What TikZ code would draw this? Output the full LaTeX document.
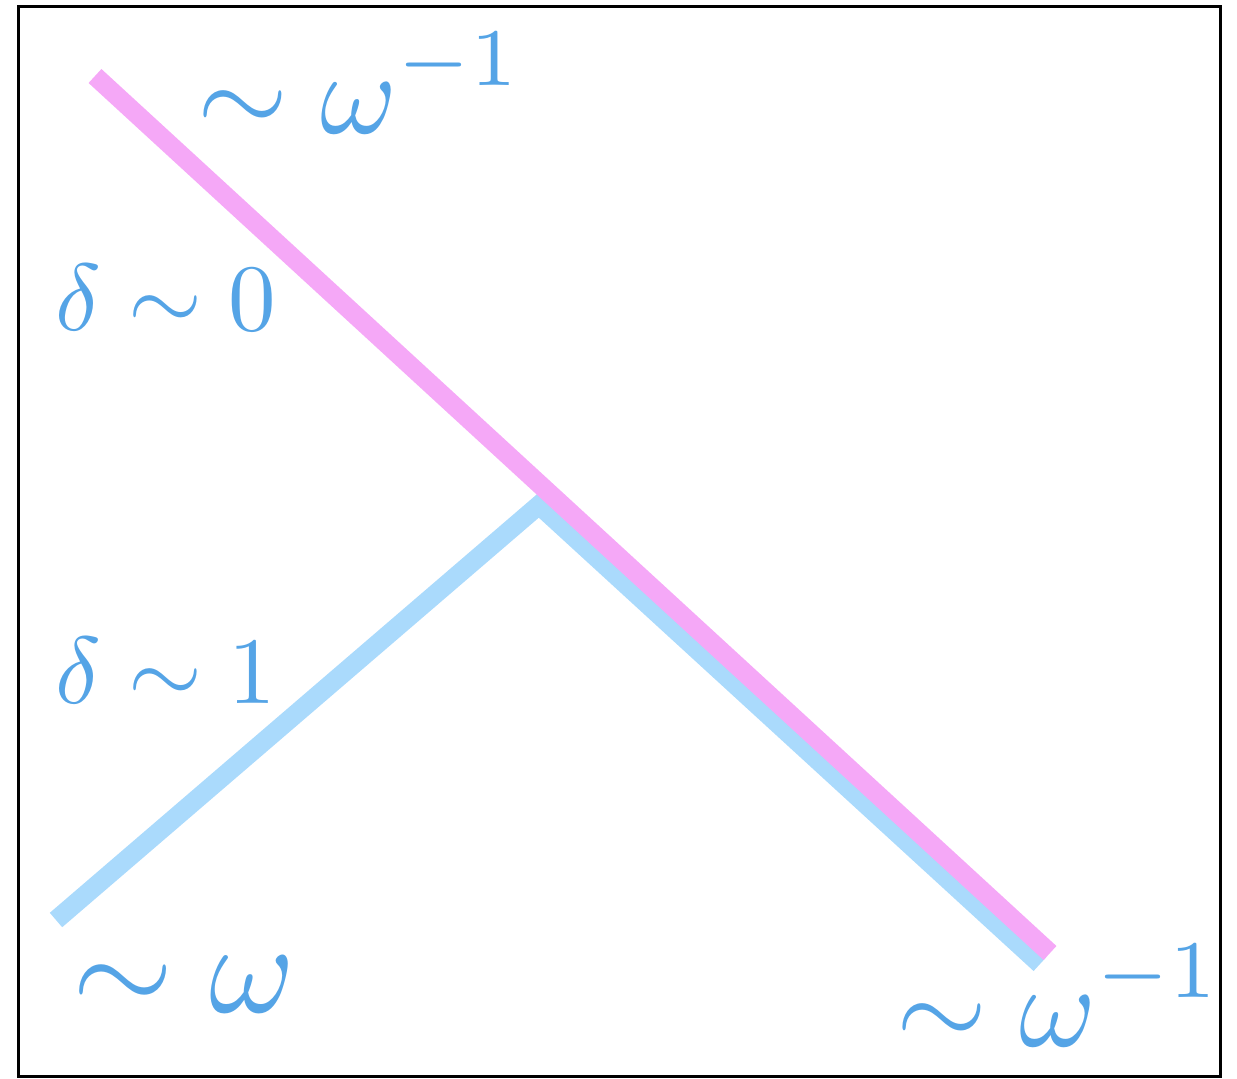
\documentclass[tikz,border=0pt]{standalone}
\usepackage{amsmath}
\usepackage{tikz}
\usetikzlibrary{positioning}
\definecolor{lineblue}{RGB}{170,218,252}
\definecolor{linepink}{RGB}{245,168,247}
\definecolor{textblue}{RGB}{85,164,230}

\begin{document}
\begin{tikzpicture}[
  x=0.2pt,y=-0.2pt,
  lbl/.style={inner sep=0pt,anchor=base west,text=textblue,scale=1.9},
  biglbl/.style={lbl,scale=1.23},
  blueline/.style={draw=lineblue,line width=3.8pt,line join=miter},
  pinkline/.style={draw=linepink,line width=3.8pt}]
\useasboundingbox (0,0) rectangle (1237,1078);
\draw[line width=0.6pt] (18,7) rectangle (1220,1076);
% end points
\coordinate (b1) at (56,920);
\coordinate (b2) at (539,505);
\coordinate (b3) at (1040,964);
\coordinate (p1) at (95,76);
\coordinate (p2) at (1050,953);
% lines
\draw[blueline] (b1) -- (b2) -- (b3);
\draw[pinkline] (p1) -- (p2);
% labels
\node[biglbl] (top)  at (195,134)  {$\displaystyle\sim\omega^{-1}$};
\node[lbl]    (d0)   at (54,330)   {$\delta\sim0$};
\node[lbl]    (d1)   at (54,703)   {$\delta\sim1$};
\node[lbl,scale=1.37] (low)  at (70,1012)  {$\sim\omega$};
\node[biglbl] (end)  at (894,1046) {$\displaystyle\sim\omega^{-1}$};
\end{tikzpicture}
\end{document}
